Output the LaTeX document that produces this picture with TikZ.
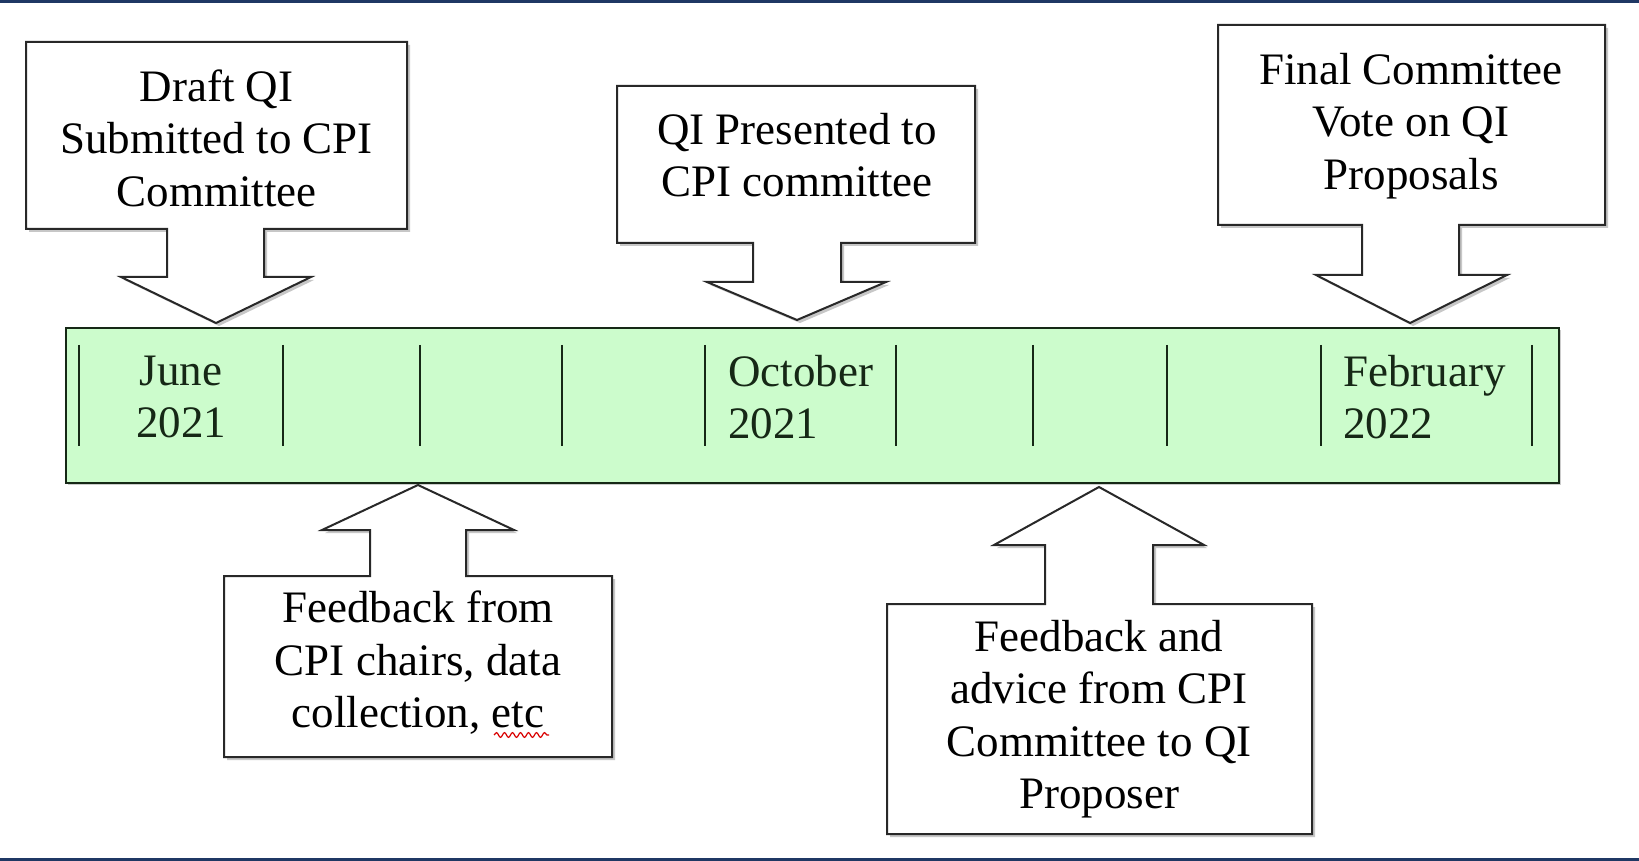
\documentclass[tikz,border=0pt]{standalone}
\usepackage{fontspec}
\setmainfont{Liberation Serif}
\usetikzlibrary{decorations.pathmorphing}
\definecolor{navy}{RGB}{31,56,100}
\definecolor{tlgreen}{RGB}{204,252,204}
\definecolor{tltext}{RGB}{22,40,22}
\definecolor{boxline}{RGB}{40,40,40}
\newcommand{\mycallout}[1]{%
  \fill[shadowc,shift={(3,3)}] #1;
  \filldraw[calloutbox] #1;}
\begin{document}
\begin{tikzpicture}[x=0.5pt,y=-0.5pt,
  calloutbox/.style={fill=white,draw=boxline,line width=1pt,line join=miter},
  shadowc/.style={fill=black!22},
  boxtext/.style={align=center,anchor=center,inner sep=0pt,font=\fontsize{22.5}{26.2}\selectfont},
  tltxt/.style={align=left,inner sep=0pt,text=tltext,font=\fontsize{22.5}{26.2}\selectfont},
  tick/.style={draw=tltext,line width=1pt}]
\useasboundingbox (0,0) rectangle (1639,861);
\fill[white] (0,0) rectangle (1639,861);
\fill[navy] (0,0) rectangle (1639,3);
\fill[navy] (0,858) rectangle (1639,861);

% timeline
\fill[black!20,shift={(2,2)}] (66,328) rectangle (1559,483);
\filldraw[fill=tlgreen,draw=tltext,line width=1pt] (66,328) rectangle (1559,483);
\foreach \x [count=\i] in {79,283,420,562,705,896,1033,1167,1321,1532}{
  \coordinate (t\i a) at (\x,345);
  \coordinate (t\i b) at (\x,446);
  \draw[tick] (t\i a) -- (t\i b);
}
\node[tltxt,align=center,anchor=center] (jun) at (181,397) {June\\2021};
\node[tltxt,anchor=west] (oct) at (728,397) {October\\2021};
\node[tltxt,anchor=west] (feb) at (1343,397) {February\\2022};

% callout 1
\mycallout{(26,42) -- (407,42) -- (407,229) -- (264,229) -- (264,277) -- (311,277) -- (216,323) -- (121,277) -- (167,277) -- (167,229) -- (26,229) -- cycle}
\node[boxtext] (c1) at (216.5,138) {Draft QI\\Submitted to CPI\\Committee};

% callout 2
\mycallout{(617,86) -- (975,86) -- (975,243) -- (841,243) -- (841,282) -- (886,282) -- (797,320) -- (707,282) -- (753,282) -- (753,243) -- (617,243) -- cycle}
\node[boxtext] (c2) at (797,155) {QI Presented to\\CPI committee};

% callout 3
\mycallout{(1218,25) -- (1605,25) -- (1605,225) -- (1459,225) -- (1459,275) -- (1507,275) -- (1410,323) -- (1316,275) -- (1362,275) -- (1362,225) -- (1218,225) -- cycle}
\node[boxtext] (c3) at (1411,126) {Final Committee\\Vote on QI\\Proposals};

% callout 4 (up)
\mycallout{(224,757) -- (612,757) -- (612,576) -- (466,576) -- (466,530) -- (514,530) -- (418,485) -- (322,530) -- (370,530) -- (370,576) -- (224,576) -- cycle}
\node[boxtext] (c4) at (418,663) {Feedback from\\CPI chairs, data\\collection, etc};
\coordinate (sq1) at (494,735);
\coordinate (sq2) at (549,735);
\draw[red!85!black,line width=0.6pt,decorate,decoration={snake,amplitude=1.2pt,segment length=4pt}] (sq1) -- (sq2);

% callout 5 (up)
\mycallout{(887,834) -- (1312,834) -- (1312,604) -- (1153,604) -- (1153,545) -- (1204,545) -- (1099,487) -- (994,545) -- (1045,545) -- (1045,604) -- (887,604) -- cycle}
\node[boxtext] (c5) at (1099,719) {Feedback and\\advice from CPI\\Committee to QI\\Proposer};
\end{tikzpicture}
\end{document}
